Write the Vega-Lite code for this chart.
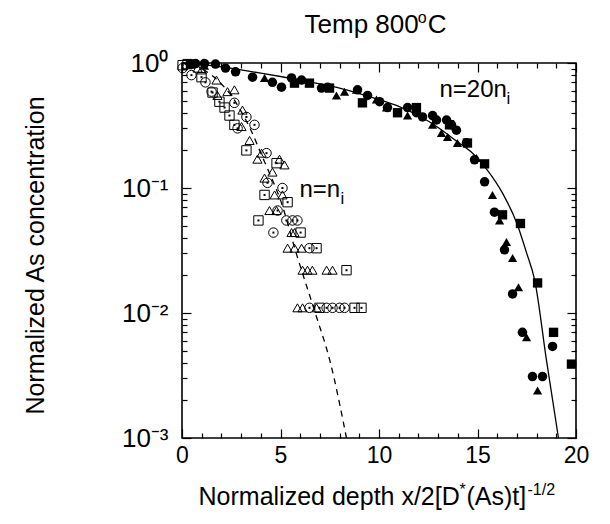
{
  "$schema": "https://vega.github.io/schema/vega-lite/v6.json",
  "width": 394,
  "height": 375,
  "autosize": {"type": "none"},
  "padding": {"left": 182, "top": 63, "right": 34, "bottom": 86},
  "background": "white",
  "config": {
    "font": "Liberation Sans, Arial, sans-serif",
    "view": {"stroke": "black", "strokeWidth": 1.6},
    "axis": {"grid": false, "domain": false, "tickColor": "black", "tickWidth": 1.2, "labelColor": "black", "titleColor": "black", "labelFont": "Liberation Sans, Arial, sans-serif", "titleFont": "Liberation Sans, Arial, sans-serif", "titleFontWeight": "normal", "labelFlush": false}
  },
  "datasets": {
    "filled": [
      {"x": 0.69, "y": 0.99, "sample": "circle"}, {"x": 1.14, "y": 0.99, "sample": "circle"}, {"x": 1.7, "y": 0.98, "sample": "circle"},
      {"x": 2.21, "y": 0.91, "sample": "circle"}, {"x": 2.72, "y": 0.85, "sample": "circle"}, {"x": 3.58, "y": 0.77, "sample": "circle"},
      {"x": 4.59, "y": 0.7, "sample": "circle"}, {"x": 5.05, "y": 0.64, "sample": "circle"}, {"x": 5.56, "y": 0.76, "sample": "circle"},
      {"x": 6.07, "y": 0.73, "sample": "circle"}, {"x": 7.08, "y": 0.63, "sample": "circle"}, {"x": 7.39, "y": 0.64, "sample": "circle"},
      {"x": 8.91, "y": 0.61, "sample": "circle"}, {"x": 9.42, "y": 0.55, "sample": "circle"}, {"x": 10.03, "y": 0.49, "sample": "circle"},
      {"x": 10.43, "y": 0.44, "sample": "circle"}, {"x": 11.45, "y": 0.44, "sample": "circle"}, {"x": 11.9, "y": 0.4, "sample": "circle"},
      {"x": 12.21, "y": 0.37, "sample": "circle"}, {"x": 12.72, "y": 0.38, "sample": "circle"}, {"x": 12.92, "y": 0.35, "sample": "circle"},
      {"x": 13.43, "y": 0.35, "sample": "circle"}, {"x": 13.68, "y": 0.32, "sample": "circle"}, {"x": 13.93, "y": 0.29, "sample": "circle"},
      {"x": 14.44, "y": 0.23, "sample": "circle"}, {"x": 14.85, "y": 0.168, "sample": "circle"}, {"x": 15.36, "y": 0.112, "sample": "circle"},
      {"x": 15.86, "y": 0.064, "sample": "circle"}, {"x": 16.37, "y": 0.032, "sample": "circle"}, {"x": 16.78, "y": 0.0142, "sample": "circle"},
      {"x": 17.28, "y": 0.007, "sample": "circle"}, {"x": 18.81, "y": 0.0054, "sample": "circle"}, {"x": 17.79, "y": 0.0031, "sample": "circle"},
      {"x": 18.3, "y": 0.0031, "sample": "circle"},
      {"x": 0.43, "y": 0.98, "sample": "square"}, {"x": 5.71, "y": 0.69, "sample": "square"}, {"x": 6.47, "y": 0.69, "sample": "square"},
      {"x": 7.49, "y": 0.63, "sample": "square"}, {"x": 9.16, "y": 0.48, "sample": "square"}, {"x": 10.94, "y": 0.4, "sample": "square"},
      {"x": 11.9, "y": 0.44, "sample": "square"}, {"x": 13.58, "y": 0.32, "sample": "square"}, {"x": 14.49, "y": 0.229, "sample": "square"},
      {"x": 15.36, "y": 0.156, "sample": "square"}, {"x": 16.27, "y": 0.061, "sample": "square"}, {"x": 17.18, "y": 0.052, "sample": "square"},
      {"x": 18.05, "y": 0.0174, "sample": "square"}, {"x": 18.86, "y": 0.007, "sample": "square"}, {"x": 19.77, "y": 0.0039, "sample": "square"},
      {"x": 1.14, "y": 0.95, "sample": "triangle"}, {"x": 4.19, "y": 0.76, "sample": "triangle"}, {"x": 7.84, "y": 0.55, "sample": "triangle"},
      {"x": 8.25, "y": 0.59, "sample": "triangle"}, {"x": 8.86, "y": 0.61, "sample": "triangle"}, {"x": 9.87, "y": 0.51, "sample": "triangle"},
      {"x": 10.38, "y": 0.44, "sample": "triangle"}, {"x": 11.45, "y": 0.38, "sample": "triangle"}, {"x": 12.72, "y": 0.32, "sample": "triangle"},
      {"x": 13.17, "y": 0.275, "sample": "triangle"}, {"x": 13.48, "y": 0.256, "sample": "triangle"}, {"x": 13.98, "y": 0.229, "sample": "triangle"},
      {"x": 14.95, "y": 0.174, "sample": "triangle"}, {"x": 15.76, "y": 0.088, "sample": "triangle"}, {"x": 16.12, "y": 0.055, "sample": "triangle"},
      {"x": 16.47, "y": 0.037, "sample": "triangle"}, {"x": 16.78, "y": 0.0275, "sample": "triangle"}, {"x": 17.08, "y": 0.0161, "sample": "triangle"},
      {"x": 17.49, "y": 0.0064, "sample": "triangle"}, {"x": 18.05, "y": 0.0024, "sample": "triangle"}
    ],
    "open": [
      {"x": 0.03, "y": 0.96, "sample": "square"}, {"x": 0.28, "y": 0.98, "sample": "square"}, {"x": 0.99, "y": 0.77, "sample": "square"},
      {"x": 1.55, "y": 0.58, "sample": "square"}, {"x": 1.9, "y": 0.49, "sample": "square"}, {"x": 2.16, "y": 0.44, "sample": "square"},
      {"x": 2.41, "y": 0.38, "sample": "square"}, {"x": 2.66, "y": 0.32, "sample": "square"}, {"x": 3.27, "y": 0.2, "sample": "square"},
      {"x": 4.8, "y": 0.158, "sample": "square"}, {"x": 4.19, "y": 0.088, "sample": "square"}, {"x": 5.36, "y": 0.077, "sample": "square"},
      {"x": 3.88, "y": 0.055, "sample": "square"}, {"x": 6.02, "y": 0.044, "sample": "square"}, {"x": 6.83, "y": 0.033, "sample": "square"},
      {"x": 8.35, "y": 0.022, "sample": "square"}, {"x": 6.98, "y": 0.011, "sample": "square"}, {"x": 8.76, "y": 0.011, "sample": "square"},
      {"x": 9.11, "y": 0.011, "sample": "square"},
      {"x": 0.03, "y": 0.91, "sample": "circle"}, {"x": 0.48, "y": 0.8, "sample": "circle"}, {"x": 1.19, "y": 0.7, "sample": "circle"},
      {"x": 1.5, "y": 0.59, "sample": "circle"}, {"x": 2.66, "y": 0.48, "sample": "circle"}, {"x": 3.27, "y": 0.37, "sample": "circle"},
      {"x": 3.68, "y": 0.32, "sample": "circle"}, {"x": 2.82, "y": 0.3, "sample": "circle"}, {"x": 4.29, "y": 0.19, "sample": "circle"},
      {"x": 4.34, "y": 0.11, "sample": "circle"}, {"x": 5.1, "y": 0.1, "sample": "circle"}, {"x": 4.85, "y": 0.066, "sample": "circle"},
      {"x": 5.3, "y": 0.055, "sample": "circle"}, {"x": 5.61, "y": 0.055, "sample": "circle"}, {"x": 5.86, "y": 0.055, "sample": "circle"},
      {"x": 4.64, "y": 0.044, "sample": "circle"}, {"x": 6.47, "y": 0.033, "sample": "circle"}, {"x": 6.47, "y": 0.011, "sample": "circle"},
      {"x": 7.34, "y": 0.011, "sample": "circle"}, {"x": 7.64, "y": 0.011, "sample": "circle"}, {"x": 8.0, "y": 0.011, "sample": "circle"},
      {"x": 8.25, "y": 0.011, "sample": "circle"},
      {"x": 0.79, "y": 0.91, "sample": "triangle"}, {"x": 0.99, "y": 0.88, "sample": "triangle"}, {"x": 1.75, "y": 0.73, "sample": "triangle"},
      {"x": 1.8, "y": 0.55, "sample": "triangle"}, {"x": 2.31, "y": 0.59, "sample": "triangle"}, {"x": 2.66, "y": 0.61, "sample": "triangle"},
      {"x": 3.07, "y": 0.42, "sample": "triangle"}, {"x": 3.02, "y": 0.31, "sample": "triangle"}, {"x": 3.43, "y": 0.24, "sample": "triangle"},
      {"x": 3.83, "y": 0.17, "sample": "triangle"}, {"x": 4.04, "y": 0.19, "sample": "triangle"}, {"x": 4.19, "y": 0.12, "sample": "triangle"},
      {"x": 4.59, "y": 0.134, "sample": "triangle"}, {"x": 4.95, "y": 0.17, "sample": "triangle"}, {"x": 5.2, "y": 0.153, "sample": "triangle"},
      {"x": 4.7, "y": 0.088, "sample": "triangle"}, {"x": 5.1, "y": 0.088, "sample": "triangle"}, {"x": 4.44, "y": 0.066, "sample": "triangle"},
      {"x": 4.8, "y": 0.066, "sample": "triangle"}, {"x": 5.56, "y": 0.044, "sample": "triangle"}, {"x": 5.71, "y": 0.044, "sample": "triangle"},
      {"x": 5.36, "y": 0.033, "sample": "triangle"}, {"x": 5.71, "y": 0.033, "sample": "triangle"}, {"x": 6.07, "y": 0.033, "sample": "triangle"},
      {"x": 6.12, "y": 0.022, "sample": "triangle"}, {"x": 6.37, "y": 0.022, "sample": "triangle"}, {"x": 6.62, "y": 0.022, "sample": "triangle"},
      {"x": 7.34, "y": 0.022, "sample": "triangle"}, {"x": 7.64, "y": 0.022, "sample": "triangle"}, {"x": 5.86, "y": 0.011, "sample": "triangle"},
      {"x": 6.12, "y": 0.011, "sample": "triangle"}, {"x": 6.83, "y": 0.011, "sample": "triangle"}
    ],
    "curve_high": [
      {"x": 0, "y": 1.0}, {"x": 1, "y": 0.97}, {"x": 2, "y": 0.93}, {"x": 3, "y": 0.88}, {"x": 4, "y": 0.83},
      {"x": 5, "y": 0.78}, {"x": 6, "y": 0.73}, {"x": 7, "y": 0.68}, {"x": 8, "y": 0.63}, {"x": 9, "y": 0.57},
      {"x": 10, "y": 0.51}, {"x": 11, "y": 0.45}, {"x": 12, "y": 0.38}, {"x": 13, "y": 0.305}, {"x": 14, "y": 0.233},
      {"x": 14.75, "y": 0.19}, {"x": 15.5, "y": 0.139}, {"x": 16.27, "y": 0.091}, {"x": 17, "y": 0.052}, {"x": 17.5, "y": 0.03},
      {"x": 17.9, "y": 0.0184}, {"x": 18.5, "y": 0.0042}, {"x": 19.11, "y": 0.001}
    ],
    "curve_low": [
      {"x": 0, "y": 1.0}, {"x": 0.5, "y": 0.97}, {"x": 1, "y": 0.9}, {"x": 1.5, "y": 0.8}, {"x": 2, "y": 0.68},
      {"x": 2.5, "y": 0.55}, {"x": 3, "y": 0.41}, {"x": 3.5, "y": 0.29}, {"x": 4, "y": 0.19}, {"x": 4.5, "y": 0.125},
      {"x": 5, "y": 0.08}, {"x": 5.8, "y": 0.03}, {"x": 6.8, "y": 0.0096}, {"x": 7.5, "y": 0.0042}, {"x": 8.35, "y": 0.001}
    ],
    "texts": [
      {"text": "n=20n", "x": 13.07, "y": 0.535, "role": "label"},
      {"text": "i", "x": 16.47, "y": 0.47, "role": "label_sub"},
      {"text": "n=n", "x": 5.96, "y": 0.0847, "role": "label"},
      {"text": "i", "x": 8.05, "y": 0.0745, "role": "label_sub"},
      {"text": "Temp 800", "x": 6.22, "y": 1.74, "role": "title"},
      {"text": "o", "x": 11.97, "y": 2.1, "role": "sup"},
      {"text": "C", "x": 12.47, "y": 1.74, "role": "title"},
      {"text": "Normalized depth x/2[D", "x": 0.84, "y": 0.00029, "role": "axis"},
      {"text": "*", "x": 14.09, "y": 0.00035, "role": "sup"},
      {"text": "(As)t]", "x": 14.44, "y": 0.00029, "role": "axis"},
      {"text": "-1/2", "x": 17.54, "y": 0.00035, "role": "sup"}
    ]
  },
  "resolve": {"axis": {"x": "independent", "y": "independent"}},
  "layer": [
    {
      "data": {"name": "curve_high"},
      "mark": {"type": "line", "color": "black", "strokeWidth": 1.3, "interpolate": "monotone"},
      "encoding": {
        "x": {"field": "x", "type": "quantitative", "scale": {"domain": [0, 20], "nice": false, "zero": false},
          "axis": {"orient": "bottom", "values": [0, 5, 10, 15, 20], "ticks": false, "tickSize": 0, "labelPadding": 6, "labelFontSize": 23, "title": null}},
        "y": {"field": "y", "type": "quantitative", "scale": {"type": "log", "domain": [0.001, 1], "nice": false},
          "axis": {"orient": "left", "values": [0.001, 0.01, 0.1, 1], "ticks": false, "tickSize": 0, "labelPadding": 14, "labelFontSize": 26,
            "labelExpr": "datum.value >= 0.5 ? '10⁰' : datum.value >= 0.05 ? '10⁻¹' : datum.value >= 0.005 ? '10⁻²' : '10⁻³'",
            "title": "Normalized As concentration", "titleFontSize": 25, "titleX": -147, "titleY": 192, "titleAngle": 270, "titleAlign": "center", "titleBaseline": "middle"}}
      }
    },
    {
      "data": {"name": "curve_low"},
      "mark": {"type": "line", "color": "black", "strokeWidth": 1.3, "strokeDash": [6, 5], "interpolate": "monotone"},
      "encoding": {
        "x": {"field": "x", "type": "quantitative", "scale": {"domain": [0, 20], "nice": false, "zero": false},
          "axis": {"orient": "bottom", "values": [0, 5, 10, 15, 20], "labels": false, "tickSize": -9, "title": null}},
        "y": {"field": "y", "type": "quantitative", "scale": {"type": "log", "domain": [0.001, 1], "nice": false},
          "axis": {"orient": "left", "values": [0.001, 0.01, 0.1, 1], "labels": false, "tickSize": -9, "title": null}}
      }
    },
    {
      "data": {"name": "filled"},
      "mark": {"type": "point", "filled": true, "color": "black", "opacity": 1},
      "encoding": {
        "x": {"field": "x", "type": "quantitative", "scale": {"domain": [0, 20], "nice": false, "zero": false},
          "axis": {"orient": "bottom", "values": [1, 2, 3, 4, 6, 7, 8, 9, 11, 12, 13, 14, 16, 17, 18, 19], "labels": false, "tickSize": -5, "title": null}},
        "y": {"field": "y", "type": "quantitative", "scale": {"type": "log", "domain": [0.001, 1], "nice": false},
          "axis": {"orient": "left", "values": [0.002, 0.003, 0.004, 0.005, 0.006, 0.007, 0.008, 0.009, 0.02, 0.03, 0.04, 0.05, 0.06, 0.07, 0.08, 0.09, 0.2, 0.3, 0.4, 0.5, 0.6, 0.7, 0.8, 0.9], "labels": false, "tickSize": -5, "title": null}},
        "shape": {"field": "sample", "type": "nominal", "scale": {"domain": ["circle", "square", "triangle"], "range": ["circle", "square", "triangle-up"]}, "legend": null},
        "size": {"field": "sample", "type": "nominal", "scale": {"domain": ["circle", "square", "triangle"], "range": [90, 85, 100]}, "legend": null}
      }
    },
    {
      "data": {"name": "open"},
      "mark": {"type": "point", "filled": false, "color": "black", "strokeWidth": 1, "opacity": 1},
      "encoding": {
        "x": {"field": "x", "type": "quantitative", "scale": {"domain": [0, 20], "nice": false, "zero": false},
          "axis": {"orient": "top", "values": [0, 5, 10, 15, 20], "labels": false, "tickSize": -9, "title": null}},
        "y": {"field": "y", "type": "quantitative", "scale": {"type": "log", "domain": [0.001, 1], "nice": false},
          "axis": {"orient": "right", "values": [0.001, 0.01, 0.1, 1], "labels": false, "tickSize": -9, "title": null}},
        "shape": {"field": "sample", "type": "nominal", "scale": {"domain": ["circle", "square", "triangle"], "range": ["circle", "square", "triangle-up"]}, "legend": null},
        "size": {"field": "sample", "type": "nominal", "scale": {"domain": ["circle", "square", "triangle"], "range": [100, 100, 110]}, "legend": null}
      }
    },
    {
      "data": {"name": "open"},
      "transform": [{"filter": "datum.sample !== 'triangle'"}],
      "mark": {"type": "point", "filled": true, "shape": "square", "size": 4, "color": "black", "opacity": 1},
      "encoding": {
        "x": {"field": "x", "type": "quantitative", "scale": {"domain": [0, 20], "nice": false, "zero": false},
          "axis": {"orient": "top", "values": [1, 2, 3, 4, 6, 7, 8, 9, 11, 12, 13, 14, 16, 17, 18, 19], "labels": false, "tickSize": -5, "title": null}},
        "y": {"field": "y", "type": "quantitative", "scale": {"type": "log", "domain": [0.001, 1], "nice": false},
          "axis": {"orient": "right", "values": [0.002, 0.003, 0.004, 0.005, 0.006, 0.007, 0.008, 0.009, 0.02, 0.03, 0.04, 0.05, 0.06, 0.07, 0.08, 0.09, 0.2, 0.3, 0.4, 0.5, 0.6, 0.7, 0.8, 0.9], "labels": false, "tickSize": -5, "title": null}}
      }
    },
    {
      "data": {"name": "texts"},
      "transform": [{"filter": "datum.role === 'label'"}],
      "mark": {"type": "text", "align": "left", "baseline": "alphabetic", "fontSize": 24, "color": "black", "font": "Liberation Sans, Arial, sans-serif"},
      "encoding": {
        "x": {"field": "x", "type": "quantitative", "scale": {"domain": [0, 20], "nice": false, "zero": false}, "axis": null},
        "y": {"field": "y", "type": "quantitative", "scale": {"type": "log", "domain": [0.001, 1], "nice": false}, "axis": null},
        "text": {"field": "text"}
      }
    },
    {
      "data": {"name": "texts"},
      "transform": [{"filter": "datum.role === 'label_sub'"}],
      "mark": {"type": "text", "align": "left", "baseline": "alphabetic", "fontSize": 17, "color": "black", "font": "Liberation Sans, Arial, sans-serif"},
      "encoding": {
        "x": {"field": "x", "type": "quantitative", "scale": {"domain": [0, 20], "nice": false, "zero": false}, "axis": null},
        "y": {"field": "y", "type": "quantitative", "scale": {"type": "log", "domain": [0.001, 1], "nice": false}, "axis": null},
        "text": {"field": "text"}
      }
    },
    {
      "data": {"name": "texts"},
      "transform": [{"filter": "datum.role === 'title'"}],
      "mark": {"type": "text", "align": "left", "baseline": "alphabetic", "fontSize": 26, "color": "black", "font": "Liberation Sans, Arial, sans-serif"},
      "encoding": {
        "x": {"field": "x", "type": "quantitative", "scale": {"domain": [0, 20], "nice": false, "zero": false}, "axis": null},
        "y": {"field": "y", "type": "quantitative", "scale": {"type": "log", "domain": [0.001, 1], "nice": false}, "axis": null},
        "text": {"field": "text"}
      }
    },
    {
      "data": {"name": "texts"},
      "transform": [{"filter": "datum.role === 'axis'"}],
      "mark": {"type": "text", "align": "left", "baseline": "alphabetic", "fontSize": 25, "color": "black", "font": "Liberation Sans, Arial, sans-serif"},
      "encoding": {
        "x": {"field": "x", "type": "quantitative", "scale": {"domain": [0, 20], "nice": false, "zero": false}, "axis": null},
        "y": {"field": "y", "type": "quantitative", "scale": {"type": "log", "domain": [0.001, 1], "nice": false}, "axis": null},
        "text": {"field": "text"}
      }
    },
    {
      "data": {"name": "texts"},
      "transform": [{"filter": "datum.role === 'sup'"}],
      "mark": {"type": "text", "align": "left", "baseline": "alphabetic", "fontSize": 16, "color": "black", "font": "Liberation Sans, Arial, sans-serif"},
      "encoding": {
        "x": {"field": "x", "type": "quantitative", "scale": {"domain": [0, 20], "nice": false, "zero": false}, "axis": null},
        "y": {"field": "y", "type": "quantitative", "scale": {"type": "log", "domain": [0.001, 1], "nice": false}, "axis": null},
        "text": {"field": "text"}
      }
    }
  ]
}
